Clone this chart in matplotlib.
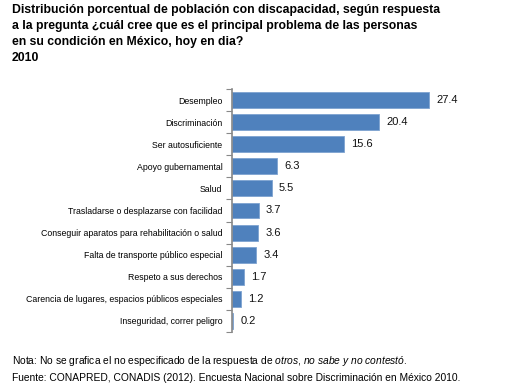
import matplotlib.pyplot as plt
import numpy as np

CATEGORIES = [
    "Desempleo",
    "Discriminación",
    "Ser autosuficiente",
    "Apoyo gubernamental",
    "Salud",
    "Trasladarse o desplazarse con facilidad",
    "Conseguir aparatos para rehabilitación o salud",
    "Falta de transporte público especial",
    "Respeto a sus derechos",
    "Carencia de lugares, espacios públicos especiales",
    "Inseguridad, correr peligro",
]
VALUES = [27.4, 20.4, 15.6, 6.3, 5.5, 3.7, 3.6, 3.4, 1.7, 1.2, 0.2]

TITLE = ("Distribución porcentual de población con discapacidad, según respuesta\n"
         "a la pregunta ¿cuál cree que es el principal problema de las personas\n"
         "en su condición en México, hoy en dia?\n"
         "2010")

BAR_COLOR = "#4f81bd"
AXIS_GRAY = "#888888"

plt.rcParams["font.family"] = ["Liberation Sans", "DejaVu Sans"]
plt.rcParams["mathtext.fontset"] = "custom"
plt.rcParams["mathtext.it"] = "Liberation Sans:italic"
plt.rcParams["mathtext.rm"] = "Liberation Sans"

fig = plt.figure(figsize=(5.11, 3.87), dpi=100)
W, H = 511, 387
# axes in pixel coords: left 232, right 448, top 89, bottom 332
ax = fig.add_axes([232 / W, 1 - 332 / H, (448 - 232) / W, (332 - 89) / H])

y = np.arange(len(CATEGORIES))
ax.barh(y, VALUES, height=0.72, color=BAR_COLOR, edgecolor="#7ea3d0",
        linewidth=0.6, zorder=2)
for yi, v in zip(y, VALUES):
    ax.text(v + 1.0, yi, f"{v:.1f}", va="center", ha="left", fontsize=8,
            color="#111111")

ax.set_ylim(len(CATEGORIES) - 0.5, -0.5)
ax.set_xlim(0, 30)
ax.set_yticks(y)
ax.set_yticklabels(CATEGORIES, fontsize=6.3)
ax.set_yticks(np.arange(-0.5, len(CATEGORIES)), minor=True)
ax.tick_params(axis="y", which="major", length=0, pad=7)
ax.tick_params(axis="y", which="minor", length=4, width=0.8, color=AXIS_GRAY)
ax.set_xticks([])
for s in ["top", "right", "bottom"]:
    ax.spines[s].set_visible(False)
ax.spines["left"].set_color(AXIS_GRAY)
ax.spines["left"].set_linewidth(1.2)

fig.text(12 / W, 1 - 4 / H, TITLE, ha="left", va="top", fontsize=8.8,
         fontweight="bold", linespacing=1.45)

fig.text(12 / W, 1 - 361 / H,
         "Nota: No se grafica el no especificado de la respuesta de $\\it{otros}$, "
         "$\\it{no\\ sabe\\ y\\ no\\ contestó}$.",
         ha="left", va="center", fontsize=7.4)
fig.text(12 / W, 1 - 378 / H,
         "Fuente: CONAPRED, CONADIS (2012). Encuesta Nacional sobre "
         "Discriminación en México 2010.",
         ha="left", va="center", fontsize=7.4)

fig.savefig("out.png", dpi=100, facecolor="white")
